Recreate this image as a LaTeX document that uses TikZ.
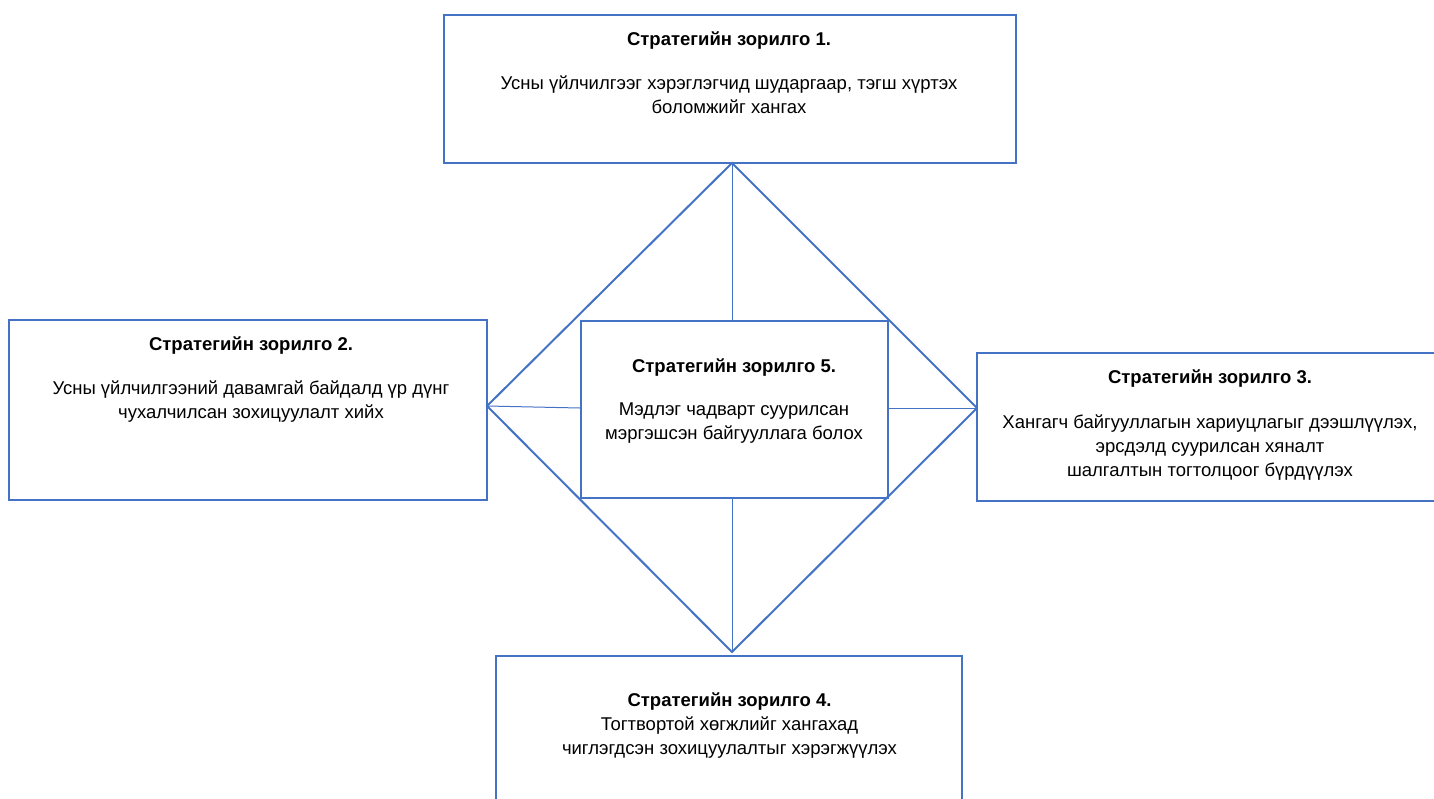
\documentclass[tikz,border=0pt]{standalone}
\usepackage{fontspec}
\setmainfont{Liberation Sans}
\usepackage{tikz}
\usetikzlibrary{calc}
\definecolor{goalblue}{HTML}{4472C4}
\tikzset{
    goalbox/.style={draw=goalblue,line width=2pt,rectangle,inner sep=0pt},
    goaltext/.style={anchor=base,align=center,inner sep=0pt,font=\fontsize{18.5}{24}\selectfont},
    rim/.style={draw=goalblue,line width=2pt},
    spoke/.style={draw=goalblue,line width=1pt}
}

\begin{document}
\begin{tikzpicture}[x=1pt,y=-1pt]
            \useasboundingbox (0,0) rectangle (1434,798);
            % diamond
            \coordinate (dt) at (732,163);
            \coordinate (dl) at (487,406);
            \coordinate (dr) at (977,408);
            \coordinate (db) at (732,652);
            \node[goalbox,minimum width=307,minimum height=177] (g5) at (734.5,409.5) {};  %center goal
            \draw[rim] (dt) -- (dr) -- (db) -- (dl) -- cycle;
            \draw[spoke] (dt) -- (dt |- g5.north);
            \draw[spoke] (dl) -- (g5.west |- dr);
            \draw[spoke] (dr) -- (g5.east |- dr);
            \draw[spoke] (db) -- (db |- g5.south);
            % boxes
            \node[goalbox,minimum width=572,minimum height=148] (g1) at (730,89) {};
            \node[goalbox,minimum width=478,minimum height=180] (g2) at (248,410) {};
            \node[goalbox,minimum width=467,minimum height=148] (g3) at (1210.5,427) {};
            \node[goalbox,minimum width=466,minimum height=148] (g4) at (729,730) {};
            % texts, placed at the baseline of the last line
            \node[goaltext] (t1) at (729,113) {\textbf{Стратегийн зорилго 1.}\\[20pt]Усны үйлчилгээг хэрэглэгчид шударгаар, тэгш хүртэх\\боломжийг хангах};
            \node[goaltext] (t2) at (251,418) {\textbf{Стратегийн зорилго 2.}\\[20pt]Усны үйлчилгээний давамгай байдалд үр дүнг\\чухалчилсан зохицуулалт хийх};
            \node[goaltext] (t5) at (734,439) {\textbf{Стратегийн зорилго 5.}\\[19pt]Мэдлэг чадварт суурилсан\\мэргэшсэн байгууллага болох};
            \node[goaltext] (t3) at (1210,476) {\textbf{Стратегийн зорилго 3.}\\[21pt]Хангагч байгууллагын хариуцлагыг дээшлүүлэх,\\эрсдэлд суурилсан хяналт\\шалгалтын тогтолцоог бүрдүүлэх};
            \node[goaltext] (t4) at (729.5,754) {\textbf{Стратегийн зорилго 4.}\\Тогтвортой хөгжлийг хангахад\\чиглэгдсэн зохицуулалтыг хэрэгжүүлэх};
\end{tikzpicture}
\end{document}
